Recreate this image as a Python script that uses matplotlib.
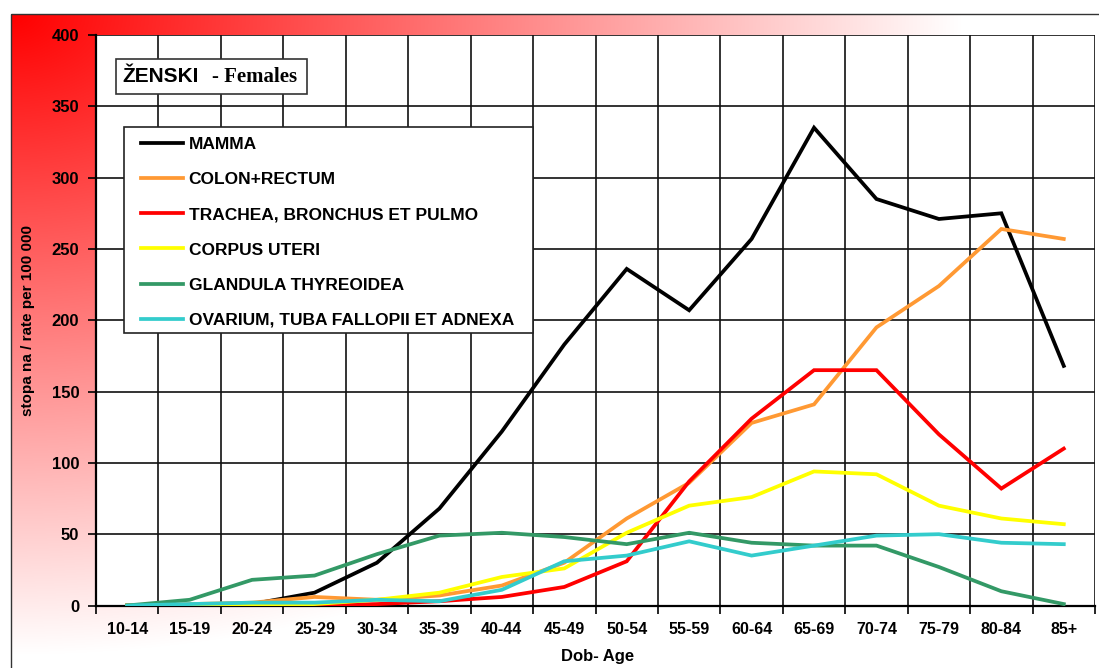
import numpy as np
import matplotlib
matplotlib.use("Agg")
import matplotlib.pyplot as plt
from matplotlib.patches import Rectangle

age_groups = ["10-14", "15-19", "20-24", "25-29", "30-34", "35-39", "40-44", "45-49",
              "50-54", "55-59", "60-64", "65-69", "70-74", "75-79", "80-84", "85+"]

mamma = [0, 0, 1, 9, 30, 68, 122, 183, 236, 207, 257, 335, 285, 271, 275, 168]
colon_rectum = [0, 1, 2, 6, 4, 7, 14, 30, 61, 86, 128, 141, 195, 224, 264, 257]
trachea = [0, 0, 0, 0, 1, 3, 6, 13, 31, 87, 131, 165, 165, 120, 82, 110]
corpus_uteri = [0, 0, 0, 1, 4, 9, 20, 26, 51, 70, 76, 94, 92, 70, 61, 57]
thyreoidea = [0, 4, 18, 21, 36, 49, 51, 48, 43, 51, 44, 42, 42, 27, 10, 1]
ovarium = [0, 1, 2, 2, 4, 3, 11, 31, 35, 45, 35, 42, 49, 50, 44, 43]

series = [
    ("MAMMA", mamma, "#000000"),
    ("COLON+RECTUM", colon_rectum, "#FF9933"),
    ("TRACHEA, BRONCHUS ET PULMO", trachea, "#FF0000"),
    ("CORPUS UTERI", corpus_uteri, "#FFFF00"),
    ("GLANDULA THYREOIDEA", thyreoidea, "#339966"),
    ("OVARIUM, TUBA FALLOPII ET ADNEXA", ovarium, "#33CCCC"),
]

W, H = 1099, 668
fig = plt.figure(figsize=(W / 100, H / 100), dpi=100)

# gradient background
bg = fig.add_axes([0, 0, 1, 1], zorder=-10)
yy, xx = np.mgrid[0:H, 0:W].astype(float)
d = np.sqrt(((xx - 11) / 950.0) ** 2 + ((yy - 14) / 640.0) ** 2)
w = np.clip(d, 0, 1)
img = np.ones((H, W, 3))
img[..., 1] = w
img[..., 2] = w
outside = (xx < 11) | (yy < 14)
img[outside] = 1.0
bg.imshow(img, extent=(0, W, H, 0), aspect="auto", interpolation="bilinear")
bg.add_patch(Rectangle((11, 14), 1200, 800, fill=False, edgecolor="#333333", linewidth=1.0))
bg.set_xlim(0, W)
bg.set_ylim(H, 0)
bg.axis("off")

left, right, top, bottom = 96, 1095, 35, 605.5
ax = fig.add_axes([left / W, 1 - bottom / H, (right - left) / W, (bottom - top) / H])
ax.set_facecolor("white")

x = np.arange(len(age_groups))
for name, vals, col in series:
    ax.plot(x, vals, color=col, linewidth=2.7, label=name, solid_joinstyle="miter", zorder=3)

ax.set_xlim(-0.5, len(age_groups) - 0.5)
ax.set_ylim(0, 400)
ax.set_yticks(np.arange(0, 401, 50))
ax.set_xticks(np.arange(-0.5, len(age_groups), 1.0))
ax.set_xticks(x, minor=True)
ax.set_xticklabels([])
ax.set_xticklabels(age_groups, minor=True)
ax.tick_params(axis="x", which="minor", length=0, pad=12)
ax.tick_params(axis="x", which="major", length=6, width=1.2, direction="out")
ax.tick_params(axis="y", length=6, width=1.2, direction="out", pad=6)
for lab in ax.get_xticklabels(minor=True):
    lab.set_fontfamily("Liberation Sans")
    lab.set_fontweight("bold")
    lab.set_fontsize(11.5)
for lab in ax.get_yticklabels():
    lab.set_fontfamily("Liberation Sans")
    lab.set_fontweight("bold")
    lab.set_fontsize(12)

ax.grid(True, which="major", color="#111111", linewidth=1.2, zorder=1)
ax.set_axisbelow(True)
for s in ["top", "right"]:
    ax.spines[s].set_visible(False)
ax.spines["left"].set_linewidth(1.6)
ax.spines["bottom"].set_linewidth(1.6)

fig.text(28 / W, 1 - 320 / H, "stopa na / rate per 100 000", rotation=90,
         ha="center", va="center", fontsize=11, fontweight="bold", family="Liberation Sans")
fig.text(598 / W, 1 - 657 / H, "Dob- Age", ha="center", va="center",
         fontsize=12, fontweight="bold", family="Liberation Sans")

# title box (figure pixel coords, origin bottom-left)
title_box = Rectangle((116, H - 94), 191, 35, transform=None, facecolor="white",
                      edgecolor="#333333", linewidth=1.2, zorder=15)
fig.add_artist(title_box)
fig.text(122 / W, 1 - 77 / H, "ŽENSKI", ha="left", va="center", fontsize=15,
         fontweight="bold", family="Liberation Sans", zorder=20)
fig.text(212 / W, 1 - 77 / H, "- Females", ha="left", va="center", fontsize=15,
         fontweight="bold", family="Liberation Serif", zorder=20)

# legend frame drawn separately
leg_box = Rectangle((124, H - 333), 409, 206, transform=None, facecolor="white",
                    edgecolor="#222222", linewidth=1.2, zorder=15)
fig.add_artist(leg_box)
leg = ax.legend(loc="upper left", bbox_to_anchor=(141 / W, 1 - 137 / H), bbox_transform=fig.transFigure,
                borderaxespad=0, frameon=False,
                handlelength=2.4, handletextpad=0.35, borderpad=0.0, labelspacing=1.15,
                prop={"family": "Liberation Sans", "weight": "bold", "size": 12.5})
leg.remove()
fig.add_artist(leg)
leg.set_zorder(20)

fig.savefig("out.png", dpi=100)
